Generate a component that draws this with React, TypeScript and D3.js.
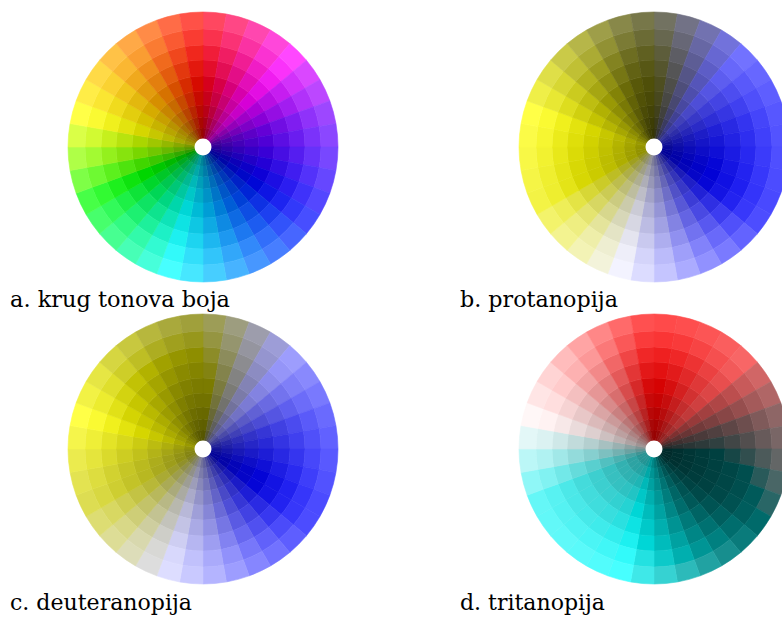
import React from "react";
import * as d3 from "d3";

// Hue (HSL degrees) of each 10° sector of the normal colour wheel, clockwise from 12 o'clock
const SECTOR_HUES = [
  352, 340, 326, 312, 300, 288, 278, 268, 262, 256, 250, 244,
  238, 230, 222, 214, 205, 196, 188, 180, 168, 156, 144, 132,
  120, 102, 86, 72, 60, 54, 48, 40, 32, 22, 12, 3,
];

// Ring boundaries (inner -> outer) and the saturation / value of each ring
const RING_EDGES = [8, 19, 30, 42, 56, 71, 87, 102, 118, 135];
const RING_SAT = [1, 1, 1, 1, 1, 0.94, 0.88, 0.8, 0.72];
const RING_VAL = [0.6, 0.66, 0.72, 0.78, 0.84, 0.89, 0.94, 0.98, 1];

const PANEL_LABELS = ["a. krug tonova boja", "b. protanopija", "c. deuteranopija", "d. tritanopija"];
const PANEL_TYPES = ["normal", "protan", "deutan", "tritan"];

// Linear-RGB simulation matrices
const SIM_MATRICES: Record<string, number[][]> = {
  normal: [[1, 0, 0], [0, 1, 0], [0, 0, 1]],
  protan: [[0.11238, 0.88762, 0], [0.11238, 0.88762, 0], [0.00401, -0.00401, 1]],
  deutan: [[0.29275, 0.70725, 0], [0.29275, 0.70725, 0], [-0.02234, 0.02234, 1]],
  tritan: [[1, 0.07, -0.07], [0, 0.925, 0.075], [0, 0.925, 0.075]],
};

const toLin = (c: number) => (c <= 0.04045 ? c / 12.92 : Math.pow((c + 0.055) / 1.055, 2.4));
const toSrgb = (c: number) => {
  const v = Math.max(0, Math.min(1, c));
  return v <= 0.0031308 ? v * 12.92 : 1.055 * Math.pow(v, 1 / 2.4) - 0.055;
};

function cellColor(hue: number, s: number, v: number, type: string) {
  const pure = d3.rgb(d3.hsl(hue, 1, 0.5));
  const rgb = [pure.r, pure.g, pure.b].map((c) => v * (1 - s + (s * c) / 255));
  const lin = rgb.map(toLin);
  const m = SIM_MATRICES[type];
  const out = m.map((row) => row[0] * lin[0] + row[1] * lin[1] + row[2] * lin[2]).map(toSrgb);
  return d3.rgb(out[0] * 255, out[1] * 255, out[2] * 255).formatHex();
}

const angle = d3
  .scaleBand<number>()
  .domain(d3.range(SECTOR_HUES.length))
  .range([0, 2 * Math.PI]);

const arc = d3.arc<any>();

function Wheel({ cx, cy, type }: { cx: number; cy: number; type: string }) {
  const cells: React.ReactNode[] = [];
  SECTOR_HUES.forEach((hue, i) => {
    RING_SAT.forEach((s, j) => {
      const d = arc({
        innerRadius: RING_EDGES[j],
        outerRadius: RING_EDGES[j + 1],
        startAngle: angle(i)!,
        endAngle: angle(i)! + angle.bandwidth(),
      });
      const fill = cellColor(hue, s, RING_VAL[j], type);
      cells.push(<path key={`${i}-${j}`} d={d!} fill={fill} stroke={fill} strokeWidth={0.6} />);
    });
  });
  return (
    <g transform={`translate(${cx},${cy})`}>
      {cells}
      <circle r={RING_EDGES[0] + 0.5} fill="#ffffff" />
    </g>
  );
}

const CX = [203, 654];
const CY = [147, 449];
const LABEL_X = [10, 460];
const LABEL_Y = [307, 610];
const LABEL_W = [220, 158, 182, 145];

export default function App() {
  return (
    <svg
      width={782}
      height={621}
      style={{ position: "absolute", left: 0, top: 0, background: "#ffffff" }}
    >
      <rect width={782} height={621} fill="#ffffff" />
      {PANEL_TYPES.map((t, k) => (
        <Wheel key={t} cx={CX[k % 2]} cy={CY[Math.floor(k / 2)]} type={t} />
      ))}
      {PANEL_LABELS.map((label, k) => (
        <text
          key={label}
          x={LABEL_X[k % 2]}
          y={LABEL_Y[Math.floor(k / 2)]}
          fontFamily="'DejaVu Serif', serif"
          fontSize={22}
          fill="#000000"
          textLength={LABEL_W[k]}
          lengthAdjust="spacingAndGlyphs"
        >
          {label}
        </text>
      ))}
    </svg>
  );
}
